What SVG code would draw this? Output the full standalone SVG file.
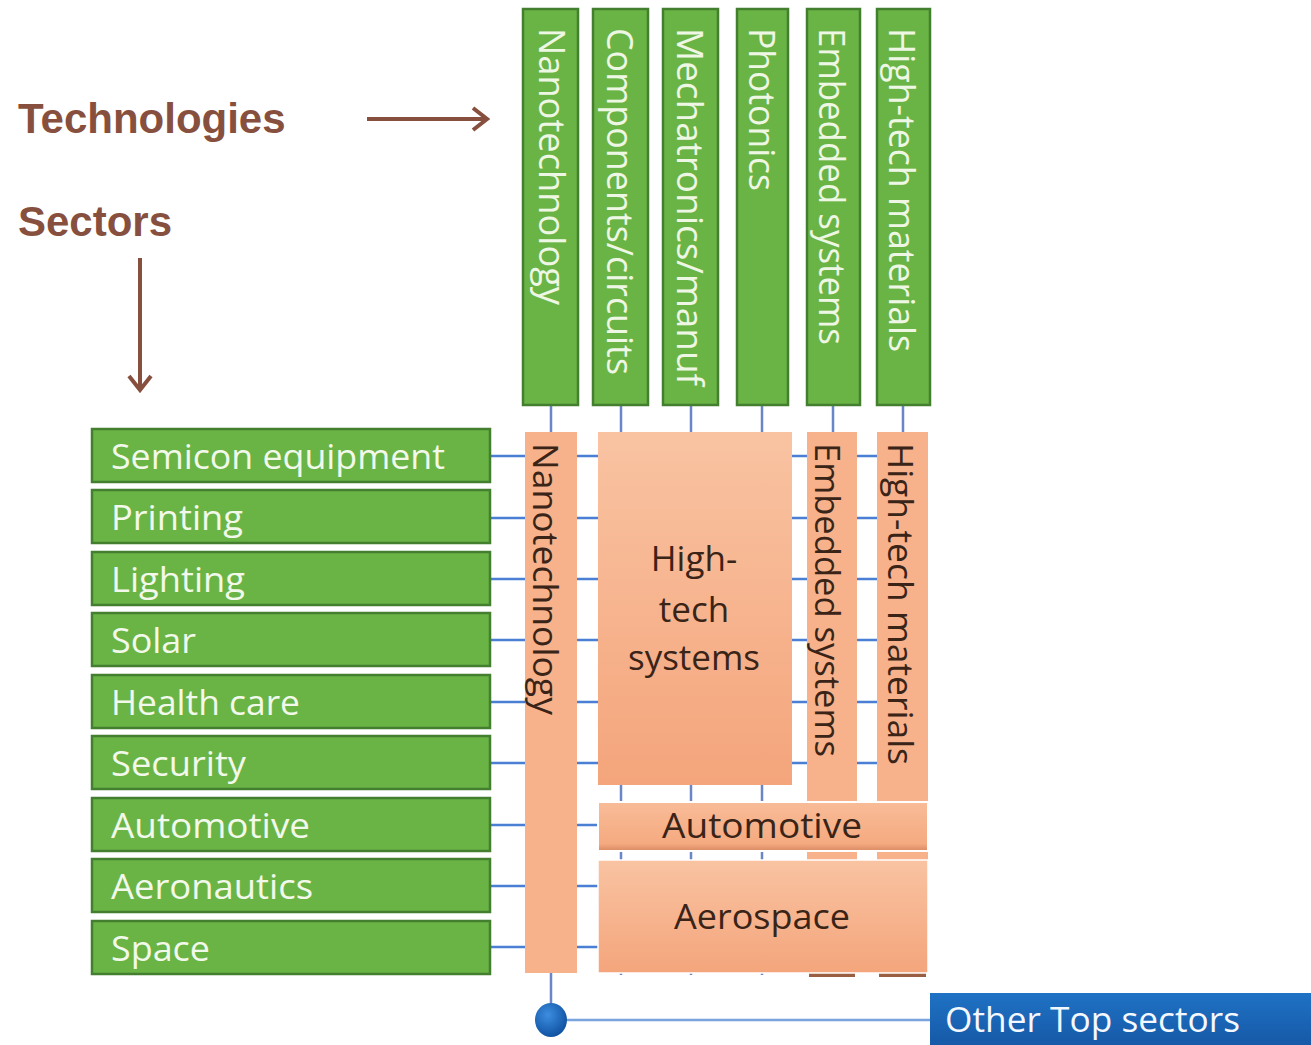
<svg xmlns="http://www.w3.org/2000/svg" width="1311" height="1045" viewBox="0 0 1311 1045">
<style>
.g{fill:#6ab446;stroke:#447f30;stroke-width:2.5}
.gt{font-family:"Open Sans","Noto Sans",sans-serif;font-size:37px;fill:#eef7e4}
.st{font-family:"Open Sans","Noto Sans",sans-serif;font-size:35px;fill:#f2f9ea}
.ot{font-family:"Open Sans","Noto Sans",sans-serif;font-size:35px;fill:#3a2418}
.o{fill:url(#og)}
.lbl{font-family:"Liberation Sans",Arial,sans-serif;font-size:42px;font-weight:bold;fill:#87503e}
.grid{stroke:#4a7fd4;stroke-width:2.5;fill:none}
.vgrid{stroke:#6a86c8;stroke-width:2.5;fill:none}
.arr{stroke:#87503e;stroke-width:4;fill:none}
</style>
<defs>
<linearGradient id="og" x1="0" y1="0" x2="0" y2="1">
<stop offset="0" stop-color="#f9c3a2"/>
<stop offset="1" stop-color="#f4a57b"/>
</linearGradient>
<linearGradient id="og2" x1="0" y1="0" x2="0" y2="1">
<stop offset="0" stop-color="#f8bc98"/>
<stop offset="0.85" stop-color="#f5aa80"/>
<stop offset="1" stop-color="#d98a62"/>
</linearGradient>
<linearGradient id="bg" x1="0" y1="0" x2="0" y2="1">
<stop offset="0" stop-color="#1f72c4"/>
<stop offset="1" stop-color="#1659a8"/>
</linearGradient>
<radialGradient id="ball" cx="0.4" cy="0.35" r="0.7">
<stop offset="0" stop-color="#3d8de0"/>
<stop offset="1" stop-color="#0d4f9e"/>
</radialGradient>
<marker id="chev" viewBox="0 0 26 26" refX="23" refY="13" markerWidth="26" markerHeight="26" markerUnits="userSpaceOnUse" orient="auto">
<path d="M9,2 L23,13 L9,24" fill="none" stroke="#87503e" stroke-width="4" stroke-linejoin="miter"/>
</marker>
</defs>
<rect width="1311" height="1045" fill="#ffffff"/>

<g id="labels">
<text class="lbl" x="18" y="133">Technologies</text>
<text class="lbl" x="18" y="236">Sectors</text>
<line class="arr" x1="367" y1="119" x2="487" y2="119" marker-end="url(#chev)"/>
<line class="arr" x1="140" y1="258" x2="140" y2="390" marker-end="url(#chev)"/>
</g>

<g id="connectors">
<line class="grid" x1="490" y1="456" x2="880" y2="456"/>
<line class="grid" x1="490" y1="518" x2="880" y2="518"/>
<line class="grid" x1="490" y1="579" x2="880" y2="579"/>
<line class="grid" x1="490" y1="640" x2="880" y2="640"/>
<line class="grid" x1="490" y1="702" x2="880" y2="702"/>
<line class="grid" x1="490" y1="763" x2="880" y2="763"/>
<line class="grid" x1="490" y1="825" x2="880" y2="825"/>
<line class="grid" x1="490" y1="886" x2="880" y2="886"/>
<line class="grid" x1="490" y1="947" x2="880" y2="947"/>
<line class="vgrid" x1="551" y1="405" x2="551" y2="1010"/>
<line class="vgrid" x1="621" y1="405" x2="621" y2="975"/>
<line class="vgrid" x1="691" y1="405" x2="691" y2="975"/>
<line class="vgrid" x1="762" y1="405" x2="762" y2="975"/>
<line class="vgrid" x1="833" y1="405" x2="833" y2="975"/>
<line class="vgrid" x1="903" y1="405" x2="903" y2="975"/>
<line x1="560" y1="1020" x2="935" y2="1020" stroke="#7aa4de" stroke-width="2.5"/>
</g>

<g id="tech-nanotechnology"><rect class="g" x="523" y="9" width="55" height="396"/><text class="gt" transform="translate(539,28) rotate(90)" textLength="277" lengthAdjust="spacingAndGlyphs">Nanotechnology</text></g>
<g id="tech-components"><rect class="g" x="593" y="9" width="55" height="396"/><text class="gt" transform="translate(607,28) rotate(90)" textLength="347" lengthAdjust="spacingAndGlyphs">Components/circuits</text></g>
<g id="tech-mechatronics"><rect class="g" x="663" y="9" width="55" height="396"/><text class="gt" transform="translate(677,28) rotate(90)" textLength="358" lengthAdjust="spacingAndGlyphs">Mechatronics/manuf</text></g>
<g id="tech-photonics"><rect class="g" x="737" y="9" width="51" height="396"/><text class="gt" transform="translate(749,28) rotate(90)" textLength="163" lengthAdjust="spacingAndGlyphs">Photonics</text></g>
<g id="tech-embedded"><rect class="g" x="807" y="9" width="53" height="396"/><text class="gt" transform="translate(819,28) rotate(90)" textLength="317" lengthAdjust="spacingAndGlyphs">Embedded systems</text></g>
<g id="tech-materials"><rect class="g" x="877" y="9" width="53" height="396"/><text class="gt" transform="translate(889,28) rotate(90)" textLength="324" lengthAdjust="spacingAndGlyphs">High-tech materials</text></g>

<g id="sector-semicon"><rect class="g" x="92" y="429" width="398" height="53"/><text class="st" x="111" y="469" textLength="334" lengthAdjust="spacingAndGlyphs">Semicon equipment</text></g>
<g id="sector-printing"><rect class="g" x="92" y="490" width="398" height="53"/><text class="st" x="111" y="530" textLength="132" lengthAdjust="spacingAndGlyphs">Printing</text></g>
<g id="sector-lighting"><rect class="g" x="92" y="552" width="398" height="53"/><text class="st" x="111" y="592" textLength="134" lengthAdjust="spacingAndGlyphs">Lighting</text></g>
<g id="sector-solar"><rect class="g" x="92" y="613" width="398" height="53"/><text class="st" x="111" y="653" textLength="85" lengthAdjust="spacingAndGlyphs">Solar</text></g>
<g id="sector-health"><rect class="g" x="92" y="675" width="398" height="53"/><text class="st" x="111" y="715" textLength="189" lengthAdjust="spacingAndGlyphs">Health care</text></g>
<g id="sector-security"><rect class="g" x="92" y="736" width="398" height="53"/><text class="st" x="111" y="776" textLength="135" lengthAdjust="spacingAndGlyphs">Security</text></g>
<g id="sector-automotive"><rect class="g" x="92" y="798" width="398" height="53"/><text class="st" x="111" y="838" textLength="199" lengthAdjust="spacingAndGlyphs">Automotive</text></g>
<g id="sector-aeronautics"><rect class="g" x="92" y="859" width="398" height="53"/><text class="st" x="111" y="899" textLength="202" lengthAdjust="spacingAndGlyphs">Aeronautics</text></g>
<g id="sector-space"><rect class="g" x="92" y="921" width="398" height="53"/><text class="st" x="111" y="961" textLength="99" lengthAdjust="spacingAndGlyphs">Space</text></g>

<g id="top-nanotechnology"><rect x="525" y="432" width="52" height="541" fill="#f7b28c"/><text class="ot" transform="translate(533,443) rotate(90)" textLength="272" lengthAdjust="spacingAndGlyphs">Nanotechnology</text></g>
<g id="top-embedded"><rect x="807" y="432" width="50" height="540" fill="#f7b28c"/><rect x="809" y="971" width="46" height="6" fill="#9a5e42"/><text class="ot" transform="translate(815,443) rotate(90)" textLength="314" lengthAdjust="spacingAndGlyphs">Embedded systems</text></g>
<g id="top-materials"><rect x="877" y="432" width="51" height="540" fill="#f7b28c"/><rect x="879" y="971" width="47" height="6" fill="#9a5e42"/><text class="ot" transform="translate(888,443) rotate(90)" textLength="322" lengthAdjust="spacingAndGlyphs">High-tech materials</text></g>
<g id="top-hightech-systems"><rect class="o" x="598" y="432" width="194" height="353"/>
<text class="ot" text-anchor="middle" x="694" y="571">High-</text>
<text class="ot" text-anchor="middle" x="694" y="622">tech</text>
<text class="ot" text-anchor="middle" x="694" y="670" textLength="132" lengthAdjust="spacingAndGlyphs">systems</text></g>
<g id="top-automotive"><rect x="598" y="802" width="330" height="49" fill="url(#og2)" stroke="#ffffff" stroke-width="2"/><text class="ot" text-anchor="middle" x="762" y="838" textLength="200" lengthAdjust="spacingAndGlyphs">Automotive</text></g>
<g id="top-aerospace"><rect class="o" x="598" y="860" width="330" height="113" stroke="#ffffff" stroke-width="1.5"/><text class="ot" text-anchor="middle" x="762" y="929" textLength="176" lengthAdjust="spacingAndGlyphs">Aerospace</text></g>

<g id="other-top-sectors"><ellipse cx="551" cy="1020" rx="16" ry="17" fill="url(#ball)"/><rect x="930" y="993" width="381" height="52" fill="url(#bg)"/><text x="945" y="1032" font-family="'Open Sans','Noto Sans',sans-serif" font-size="34" fill="#f4f8ff" textLength="295" lengthAdjust="spacingAndGlyphs">Other Top sectors</text></g>
</svg>
